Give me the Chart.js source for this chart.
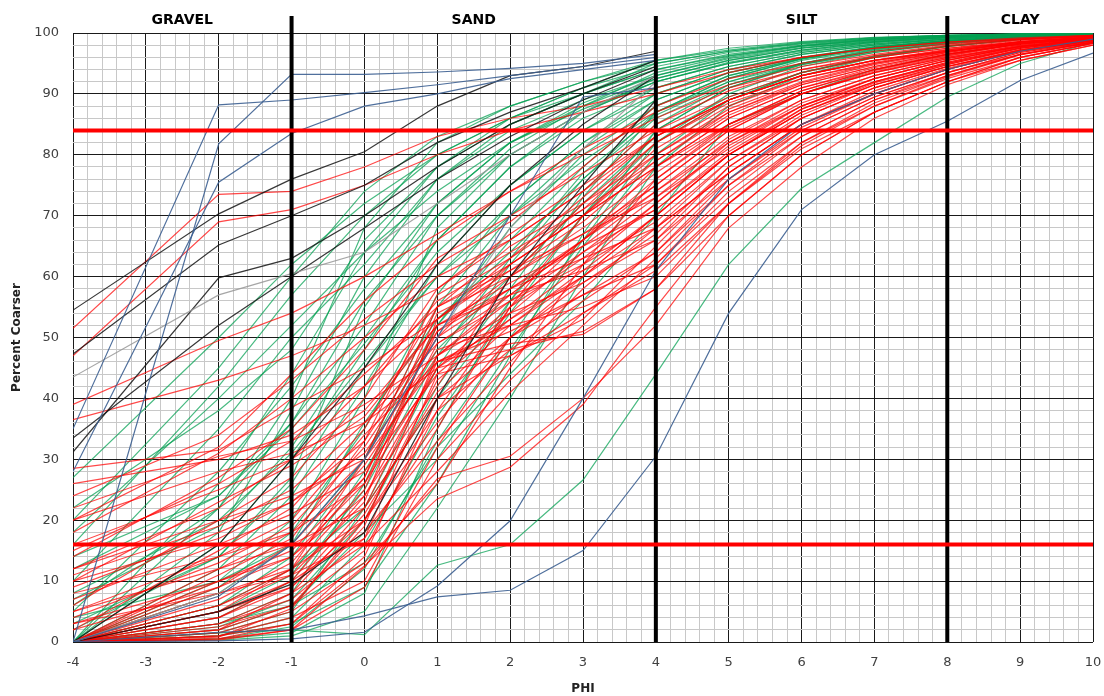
<!DOCTYPE html>
<html lang="en">
<head>
    <meta charset="UTF-8">
    <title>Grain size cumulative curves</title>
    <script src="https://cdn.jsdelivr.net/npm/chart.js"></script>
    <style>
        body {
            margin: 0;
            background-color: #fff;
        }
        #wrap {
            width: 1104px;
            height: 696px;
        }
    </style>
</head>
<body>
    <div id="wrap">
        <canvas id="myChart" width="1104" height="696"></canvas>
    </div>

    <script>
        // phi positions where each sample was measured
        const phi = [-4, -2, -1, 0, 1, 2, 3, 4, 5, 6, 7, 8, 9, 10];

        // grain size classes and their limits (phi)
        const classNames = ['GRAVEL', 'SAND', 'SILT', 'CLAY'];
        const classLimits = [-1, 4, 8];
        // 16th / 84th percentile guide lines
        const guideLevels = [16, 84];

        // percent coarser, one row per sample
        const redSamples = [
            [51.5, 73.5, 74, 78, 83, 86, 88, 91, 94, 96, 97.5, 98.5, 99, 99.5],
            [47, 69, 71, 75, 80, 84, 87, 90, 93.5, 96, 97.5, 98.5, 99.2, 99.6],
            [39, 49.5, 54, 60, 67, 74, 80, 86, 91, 94, 96, 97.5, 98.5, 99.3],
            [36.5, 43, 47, 52, 58, 66, 74, 83, 89, 93, 95.5, 97, 98.5, 99.2],
            [28.5, 31.5, 38.5, 45, 53, 63, 73, 83, 89, 93, 95.5, 97, 98.3, 99],
            [26, 30, 34, 42, 53, 62, 70, 78, 85, 90, 93.5, 96, 97.8, 99],
            [22, 30.5, 33, 39, 47, 57, 66, 74, 82, 88, 92, 95, 97.5, 98.8],
            [20, 28, 31, 36, 45, 53, 60, 68, 77, 85, 90, 94, 97, 98.8],
            [16, 25, 30, 38, 52, 57, 61, 66, 76, 84, 89.5, 93.5, 96.5, 98.5],
            [12, 20, 24, 30, 46, 51, 57, 64, 75, 83, 89, 93, 96.5, 98.5],
            [10, 17, 23, 31, 48, 52, 55, 60, 72, 81, 87, 92, 96, 98.3],
            [8, 14, 18, 26, 45, 48, 51, 58, 70, 80, 87, 92, 96, 98.3],
            [5, 12, 16, 22, 40, 47, 54, 62, 74, 83, 89, 93.5, 96.8, 98.5],
            [3, 8, 12, 20, 36, 50, 60, 70, 80, 87, 91.5, 94.5, 97, 98.7],
            [0, 5, 10, 18, 33, 46, 58, 68, 79, 86, 91, 94.5, 97.2, 98.8],
            [0, 2.5, 6, 15, 38, 55, 66, 75, 84, 90, 93.5, 96, 98, 99],
            [0, 1.5, 5, 13, 26, 45, 62, 76, 85, 90.5, 94, 96.5, 98.2, 99.2],
            [0, 0.5, 3, 12.5, 23.5, 28.7, 39, 55, 70, 80, 87, 92, 95.5, 98],
            [0, 0.3, 2, 12.3, 26.8, 30.5, 40, 52, 68, 78, 86, 91.5, 95.5, 98],
            [0, 0.8, 5.5, 20, 43, 53, 62, 72, 82, 88.5, 92.5, 95.5, 97.8, 99],
            [0, 8, 11, 17, 35, 55, 70, 81, 88, 92.5, 95, 97, 98.5, 99.3],
            [0, 10, 14, 24, 42, 60, 72, 82, 89, 93, 95.5, 97.3, 98.6, 99.4],
            [0, 12, 18, 30, 50, 62, 70, 78, 86, 91, 94, 96.5, 98.2, 99.2],
            [2, 15, 22, 35, 55, 65, 72, 80, 87, 91.5, 94.5, 96.8, 98.4, 99.3],
            [6, 20, 27, 40, 58, 67, 75, 83, 89, 93, 95.5, 97.2, 98.6, 99.4],
            [14, 27, 35, 48, 63, 70, 77, 84, 89.5, 93.5, 96, 97.5, 98.8, 99.5],
            [18, 31, 40, 50, 60, 66, 74, 85, 90.5, 94, 96.3, 97.8, 98.9, 99.5],
            [24, 34, 43, 53, 62, 69, 78, 88, 92.5, 95, 97, 98.2, 99, 99.6],
            [0, 4, 9, 22, 46, 49, 50.5, 58, 72, 82, 88, 92.5, 96, 98.3],
            [0, 3, 7, 17, 44, 47, 53, 65, 77, 85, 90, 94, 97, 98.7],
            [0, 6, 12, 25, 52, 58, 65, 74, 83, 89, 93, 95.8, 97.8, 99],
            [0, 7, 13, 27, 54, 60, 68, 77, 85, 90.5, 94, 96.5, 98.2, 99.2],
            [0, 9, 16, 29, 47, 56, 64, 71, 80, 87, 91.5, 94.8, 97.5, 98.9],
            [0, 2, 8, 16, 28, 41, 52, 63, 75, 84, 89.5, 93.5, 96.8, 98.6],
            [0, 1, 4, 10, 32, 50, 59, 67, 78, 86, 91, 94.5, 97.2, 98.8],
            [0, 5, 9, 20, 38, 48, 56, 64, 76, 84.5, 90, 94, 97, 98.7],
            [9, 18, 23, 33, 51, 60, 67, 73, 81, 88, 92.5, 95.5, 97.8, 99],
            [12, 22, 30, 42, 56, 63, 71, 79, 86.5, 91.5, 94.5, 96.8, 98.4, 99.3],
            [20, 32, 44, 56, 66, 74, 81, 87, 91.5, 94.5, 96.5, 98, 99, 99.6],
            [0, 11, 17, 33, 57, 64, 71, 82, 88.5, 92.5, 95.2, 97.2, 98.6, 99.4],
            [0, 3, 8, 21, 41, 52, 61, 70, 80, 87.5, 92, 95.2, 97.6, 99],
            [0, 4, 10, 24, 45, 55, 63, 72, 81.5, 88, 92.5, 95.5, 97.8, 99],
            [2, 9, 14, 26, 49, 56, 62, 69, 79, 86.5, 91.5, 94.8, 97.5, 98.9],
            [4, 13, 19, 32, 50, 58, 66, 76, 84.5, 90, 93.8, 96.3, 98.2, 99.2],
            [7, 16, 21, 28, 44, 54, 64, 73, 82.5, 89, 93, 95.8, 98, 99.1],
            [0, 6, 11, 23, 53, 61, 69, 79, 87, 91.8, 94.8, 96.9, 98.5, 99.3],
            [10, 23, 29, 37, 52, 59, 65, 71, 80.5, 87.5, 92, 95.2, 97.7, 99],
            [15, 26, 33, 44, 55, 61, 67, 75, 84, 90, 93.6, 96.2, 98.2, 99.2],
            [0, 2, 6, 19, 47, 54, 59, 66, 78, 86, 91, 94.5, 97.3, 98.8],
            [0, 1, 3, 14, 40, 50, 57, 62, 73, 82, 88.5, 93, 96.5, 98.5],
            [3, 10, 15, 27, 51, 58, 63, 68, 77, 85, 90.5, 94.2, 97.2, 98.8],
            [0, 5, 12, 30, 55, 62, 70, 80, 87.5, 92, 95, 97, 98.5, 99.3],
            [5, 14, 20, 34, 46, 52, 60, 70, 80, 87, 91.8, 95, 97.6, 99],
            [0, 0.5, 2, 9, 30, 43, 54, 61, 72, 81.5, 88, 92.8, 96.4, 98.4],
            [11, 19, 25, 36, 49, 57, 66, 78, 86, 91, 94.3, 96.6, 98.3, 99.2]
        ];

        const greenSamples = [
            [0, 1.5, 2, 1.2, 12.6, 16, 26.6, 44, 62, 74.5, 82, 89.5, 95, 98.5],
            [16, 42, 57, 70, 80, 86, 90, 94, 96.5, 98, 99, 99.5, 99.8, 100],
            [10, 35, 50, 62, 76, 84, 89, 93, 96, 97.8, 98.8, 99.4, 99.7, 100],
            [5, 28, 42, 58, 72, 82, 88, 92.5, 95.5, 97.5, 98.6, 99.3, 99.7, 100],
            [0, 22, 36, 52, 70, 80, 87, 92, 95, 97, 98.4, 99.2, 99.6, 99.9],
            [0, 16, 30, 48, 66, 78, 86, 91, 94.5, 96.8, 98.2, 99, 99.6, 99.9],
            [0, 12, 24, 42, 62, 75, 84, 90, 94, 96.5, 98, 99, 99.5, 99.9],
            [0, 9, 18, 35, 57, 72, 82, 89, 93.5, 96, 97.8, 98.8, 99.5, 99.9],
            [0, 6, 14, 30, 52, 68, 80, 88, 93, 95.8, 97.6, 98.7, 99.4, 99.8],
            [0, 4, 10, 25, 47, 63, 77, 86.5, 92, 95.5, 97.4, 98.6, 99.4, 99.8],
            [0, 2.5, 7, 20, 42, 58, 74, 85, 91.5, 95, 97.2, 98.5, 99.3, 99.8],
            [0, 1, 4, 16, 37, 54, 70, 84, 91, 94.8, 97, 98.4, 99.2, 99.7],
            [0, 0.5, 2.5, 12, 33, 50, 66, 82, 90, 94.5, 96.8, 98.3, 99.2, 99.7],
            [0, 5, 11, 28, 48, 60, 72, 83, 89.5, 93.5, 96, 97.8, 99, 99.6],
            [0, 8, 16, 36, 53, 64, 76, 86, 91.5, 94.8, 96.8, 98.2, 99.2, 99.7],
            [3, 14, 26, 45, 60, 72, 82, 90, 94, 96.5, 98, 99, 99.5, 99.9],
            [7, 19, 32, 50, 66, 78, 87, 92.5, 95.5, 97.5, 98.6, 99.3, 99.7, 100],
            [14, 24, 36, 56, 70, 81, 88, 93.5, 96.2, 97.9, 98.9, 99.4, 99.8, 100],
            [22, 38, 48, 66, 78, 85, 90, 95, 97, 98.3, 99.1, 99.6, 99.8, 100],
            [27, 50, 62, 72, 80, 86, 91, 95.5, 97.2, 98.5, 99.2, 99.6, 99.8, 100],
            [0, 3, 6, 13, 32, 44, 56, 70, 85, 90, 94, 96.5, 98.3, 99.3],
            [0, 0.3, 1, 5, 22, 40, 60, 78, 88, 93, 96, 97.8, 98.9, 99.6],
            [0, 2, 6, 18, 30, 48, 65, 80, 89, 93.5, 96.2, 97.8, 99, 99.6],
            [0, 1, 3, 9, 26, 47, 67, 84, 91, 95, 97.3, 98.6, 99.3, 99.8],
            [0, 0.5, 1.5, 8, 35, 56, 73, 87, 92.5, 95.8, 97.6, 98.7, 99.4, 99.8],
            [4, 10, 16, 30, 55, 70, 81, 89, 93.5, 96, 97.7, 98.8, 99.4, 99.8],
            [8, 20, 31, 46, 60, 70, 79, 87, 92, 95, 97, 98.4, 99.2, 99.7],
            [12, 24, 35, 49, 64, 75, 84, 91, 94.5, 96.8, 98.2, 99.1, 99.6, 99.9],
            [18, 40, 52, 64, 74, 82, 87.5, 92, 95, 97.2, 98.5, 99.3, 99.7, 100],
            [0, 6, 12, 22, 40, 56, 70, 82, 89, 93.5, 96.2, 97.9, 99, 99.6],
            [20, 45, 60, 74, 83, 88, 92, 95.5, 97.5, 98.6, 99.3, 99.6, 99.8, 100],
            [0, 26, 44, 64, 78, 86, 91, 94.5, 96.8, 98.2, 99, 99.5, 99.8, 100],
            [0, 18, 38, 60, 76, 85, 90, 94, 96.3, 97.9, 98.9, 99.4, 99.7, 100],
            [2, 14, 27, 55, 72, 82, 88.5, 93, 95.8, 97.6, 98.7, 99.3, 99.7, 99.9],
            [0, 10, 20, 40, 68, 80, 87, 92, 95.2, 97.2, 98.5, 99.2, 99.6, 99.9],
            [6, 22, 40, 68, 82, 88, 92, 95, 97, 98.4, 99.2, 99.6, 99.8, 100],
            [0, 3, 8, 26, 52, 66, 78, 88, 93, 95.9, 97.7, 98.8, 99.4, 99.8],
            [0, 1.5, 5, 22, 45, 62, 76, 87, 92.6, 95.7, 97.6, 98.7, 99.4, 99.8]
        ];

        // sieve-only samples (stop at 4 phi)
        const blackSamples = [
            [54.5, 70.3, 76, 80.5, 88, 93, 94.5, 97],
            [47.3, 65.2, 70, 75, 82, 87, 91, 95.5],
            [31.2, 59.8, 63, 70, 78, 85, 90, 94.5],
            [33.5, 52, 60, 68, 76, 83, 89, 94],
            [0, 16, 30, 45, 62, 75, 85, 93],
            [0, 5, 9.5, 18, 40, 60, 75, 89]
        ];

        const graySamples = [
            [43.5, 57, 60.5, 64, 72, 80, 87, 93],
            [0, 8, 16, 30, 50, 68, 81, 92]
        ];

        const blueSamples = [
            [35, 88.2, 89, 90.2, 91.5, 93, 94.5, 96],
            [0, 81.8, 93.2, 93.2, 93.6, 94.2, 95, 96.5],
            [28, 75.5, 83.5, 88, 90, 92.5, 94, 95.5],
            [0, 1.6, 2.0, 4.3, 7.4, 8.5, 15, 30.5, 54, 71, 80, 85.5, 92.2, 96.7],
            [0, 0.2, 0.5, 1.6, 9.2, 19.9, 40, 61, 76, 85, 90, 94, 97, 99],
            [0, 7.5, 16, 30, 50, 70, 89.5, 91]
        ];

        // 轉成 Chart.js 資料集
        function toDatasets(samples, color, order) {
            return samples.map(row => ({
                data: row.map((v, i) => ({ x: phi[i], y: v })),
                borderColor: color,
                borderWidth: 1.2,
                pointRadius: 0,
                tension: 0,
                fill: false,
                order: order
            }));
        }

        const datasets = [].concat(
            toDatasets(greenSamples, 'rgba(0, 160, 80, 0.72)', 3),
            toDatasets(redSamples, 'rgba(255, 0, 0, 0.72)', 2),
            toDatasets(graySamples, 'rgba(150, 150, 150, 0.85)', 1),
            toDatasets(blackSamples, 'rgba(20, 20, 20, 0.85)', 1),
            toDatasets(blueSamples, 'rgba(60, 95, 145, 0.9)', 0)
        );

        const isWhole = (v, step) => Math.abs(v / step - Math.round(v / step)) < 1e-6;

        // thick class limits, guide lines and class names
        const overlay = {
            id: 'overlay',
            afterDatasetsDraw(chart) {
                const { ctx, chartArea, scales: { x, y } } = chart;
                ctx.save();
                ctx.strokeStyle = '#000';
                ctx.lineWidth = 4;
                classLimits.forEach(b => {
                    const px = x.getPixelForValue(b);
                    ctx.beginPath();
                    ctx.moveTo(px, chartArea.top - 17);
                    ctx.lineTo(px, chartArea.bottom);
                    ctx.stroke();
                });

                ctx.strokeStyle = '#ff0000';
                guideLevels.forEach(v => {
                    const py = y.getPixelForValue(v);
                    ctx.beginPath();
                    ctx.moveTo(chartArea.left, py);
                    ctx.lineTo(chartArea.right, py);
                    ctx.stroke();
                });

                ctx.fillStyle = '#000';
                ctx.font = 'bold 14px "DejaVu Sans"';
                ctx.textAlign = 'center';
                ctx.textBaseline = 'middle';
                const edges = [x.min].concat(classLimits, [x.max]);
                classNames.forEach((name, i) => {
                    const mid = (edges[i] + edges[i + 1]) / 2;
                    ctx.fillText(name, x.getPixelForValue(mid), chartArea.top - 13);
                });
                ctx.restore();
            }
        };

        const ctx = document.getElementById('myChart').getContext('2d');
        const myChart = new Chart(ctx, {
            type: 'line',
            data: { datasets: datasets },
            options: {
                responsive: false,
                animation: false,
                layout: { padding: { top: 33, right: 11, left: 0, bottom: 0 } },
                plugins: {
                    legend: { display: false },
                    tooltip: { enabled: false }
                },
                scales: {
                    x: {
                        type: 'linear',
                        min: -4,
                        max: 10,
                        afterFit: s => {
                            s.height = 54;
                            s.paddingLeft = 0;
                            s.paddingRight = 0;
                        },
                        ticks: {
                            stepSize: 0.2,
                            autoSkip: false,
                            maxRotation: 0,
                            padding: 13,
                            color: '#404040',
                            font: { family: 'DejaVu Sans', size: 13 },
                            callback: v => isWhole(v, 1) ? Math.round(v) : ''
                        },
                        grid: {
                            drawTicks: false,
                            lineWidth: 1,
                            color: c => isWhole(c.tick.value, 1) ? '#1a1a1a' : '#c8c8c8'
                        },
                        border: { display: false },
                        title: {
                            display: true,
                            text: 'PHI',
                            color: '#222',
                            font: { family: 'DejaVu Sans', size: 12, weight: 'bold' },
                            padding: { top: 0, bottom: 0 }
                        }
                    },
                    y: {
                        min: 0,
                        max: 100,
                        afterFit: s => { s.width = 73; },
                        ticks: {
                            stepSize: 2,
                            autoSkip: false,
                            padding: 14,
                            color: '#404040',
                            font: { family: 'DejaVu Sans', size: 13 },
                            callback: v => isWhole(v, 10) ? Math.round(v) : ''
                        },
                        grid: {
                            drawTicks: false,
                            lineWidth: 1,
                            color: c => isWhole(c.tick.value, 10) ? '#1a1a1a' : '#c8c8c8'
                        },
                        border: { display: false },
                        title: {
                            display: true,
                            text: 'Percent Coarser',
                            color: '#222',
                            font: { family: 'DejaVu Sans', size: 12, weight: 'bold' },
                            padding: { top: 10, bottom: 0 }
                        }
                    }
                }
            },
            plugins: [overlay]
        });
    </script>
</body>
</html>
